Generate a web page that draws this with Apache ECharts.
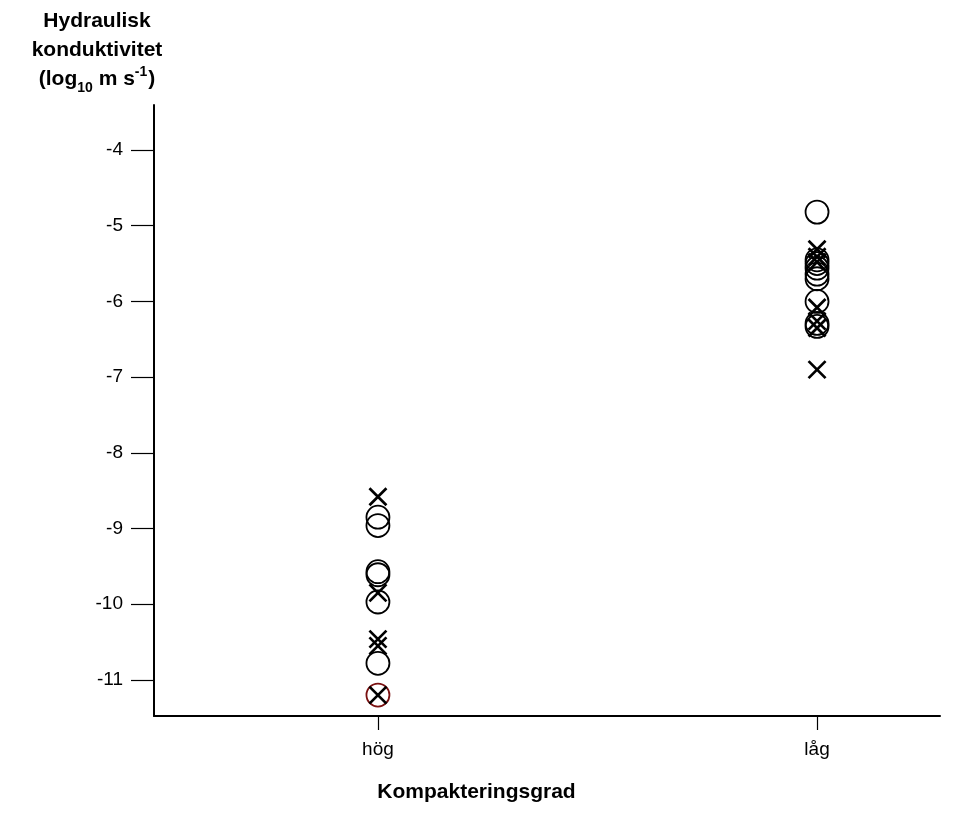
<!DOCTYPE html>
<html>
<head>
<meta charset="utf-8">
<script src="https://cdn.jsdelivr.net/npm/echarts@6/dist/echarts.min.js"></script>
<style>
  html, body { margin: 0; padding: 0; background: #fff; }
  #chart { width: 953px; height: 814px; }
</style>
</head>
<body>
<div id="chart"></div>
<script>
// Compaction groups on the x axis
const categories = ['hög', 'låg'];
const yTicks = [-11, -10, -9, -8, -7, -6, -5, -4];

// log10 hydraulic conductivity, high compaction
const circlesHog = [-8.85, -8.96, -9.57, -9.61, -9.97, -10.78];
const crossesHog = [-8.58, -9.85, -10.46, -10.55, -11.20];
const redCirclesHog = [-11.20];

// log10 hydraulic conductivity, low compaction
const circlesLag = [-4.82, -5.45, -5.50, -5.56, -5.64, -5.70, -6.00, -6.29, -6.33];
const crossesLag = [-5.31, -5.41, -5.48, -6.08, -6.26, -6.35, -6.90];

const pos = { 'hög': 1, 'låg': 2 };
const pts = (cat, arr) => arr.map(v => [pos[cat], v]);

const crossPath = 'path://M0,0L10,10M10,0L0,10';
const font = 'Liberation Sans, Arial, sans-serif';

const circleStyle = (c) => ({ color: 'rgba(0,0,0,0)', borderColor: c, borderWidth: 1.8, opacity: 1 });
const crossStyle = { color: 'none', borderColor: '#000', borderWidth: 2.7, opacity: 1 };

const chart = echarts.init(document.getElementById('chart'));
chart.setOption({
  animation: false,
  backgroundColor: '#fff',
  grid: { left: 154, right: 13, top: 105, bottom: 98 },
  title: {
    left: 92, top: 2, textAlign: 'center',
    text: '{b|Hydraulisk}\n{b|konduktivitet}\n{b|(log}{sub|10}{b| m s}{sup|-1}{b|)}',
    textStyle: {
      rich: {
        b: { fontFamily: font, fontWeight: 'bold', fontSize: 21, color: '#000', lineHeight: 29 },
        sub: { fontFamily: font, fontWeight: 'bold', fontSize: 14, color: '#000', lineHeight: 29, verticalAlign: 'bottom', padding: [0, 0, -1, 0] },
        sup: { fontFamily: font, fontWeight: 'bold', fontSize: 14, color: '#000', lineHeight: 29, verticalAlign: 'top', padding: [0, 1, 6, 0] }
      }
    }
  },
  graphic: [{
    type: 'text', left: 'center', top: 782,
    style: { text: 'Kompakteringsgrad', font: 'bold 21px ' + font, fill: '#000', x: 598 - 476, textAlign: 'center' }
  }],
  xAxis: {
    type: 'value', min: 0.49, max: 2.28,
    splitLine: { show: false },
    axisLine: { lineStyle: { color: '#000', width: 2 } },
    axisTick: { show: true, length: 14, inside: false, lineStyle: { color: '#000', width: 1.2 }, customValues: [1, 2] },
    axisLabel: {
      customValues: [1, 2], margin: 24, fontFamily: font, fontSize: 19, color: '#000',
      formatter: v => categories[Math.round(v) - 1] || ''
    }
  },
  yAxis: {
    type: 'value', min: -11.476, max: -3.405,
    splitLine: { show: false },
    axisLine: { show: true, lineStyle: { color: '#000', width: 2 } },
    axisTick: { show: true, length: 23, lineStyle: { color: '#000', width: 1.2 }, customValues: yTicks },
    axisLabel: { customValues: yTicks, margin: 31, fontFamily: font, fontSize: 19, color: '#000' }
  },
  series: [
    { type: 'scatter', name: 'o hög', data: pts('hög', circlesHog), symbol: 'circle', symbolSize: 23,
      itemStyle: circleStyle('#000') },
    { type: 'scatter', name: 'o hög röd', data: pts('hög', redCirclesHog), symbol: 'circle', symbolSize: 23,
      itemStyle: circleStyle('#7a1010') },
    { type: 'scatter', name: 'o låg', data: pts('låg', circlesLag), symbol: 'circle', symbolSize: 23,
      itemStyle: circleStyle('#000') },
    { type: 'scatter', name: 'x hög', data: pts('hög', crossesHog), symbol: crossPath, symbolSize: 17,
      itemStyle: crossStyle },
    { type: 'scatter', name: 'x låg', data: pts('låg', crossesLag), symbol: crossPath, symbolSize: 17,
      itemStyle: crossStyle }
  ]
});
</script>
</body>
</html>
